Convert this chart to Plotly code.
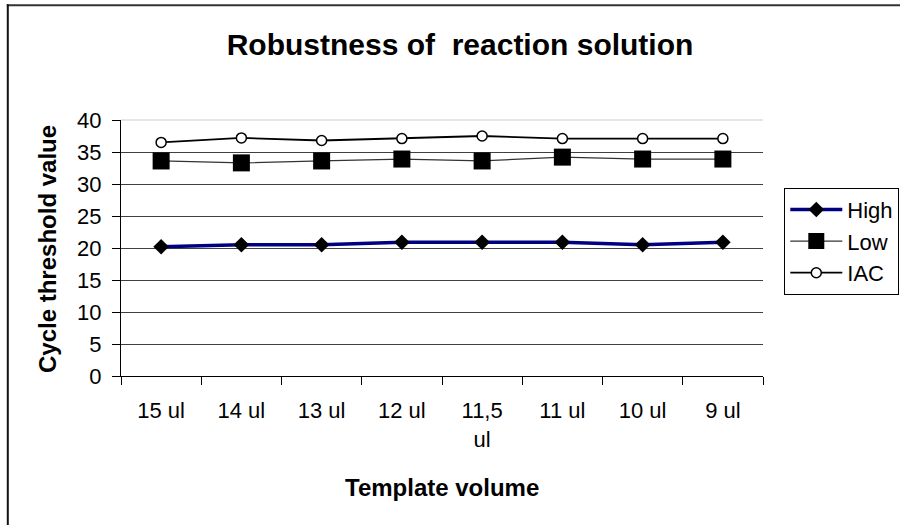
import plotly.graph_objects as go

categories = ["15 ul", "14 ul", "13 ul", "12 ul", "11,5<br>ul", "11 ul", "10 ul", "9 ul"]
high = [20.2, 20.5, 20.5, 20.9, 20.9, 20.9, 20.5, 20.9]
low = [33.6, 33.3, 33.6, 33.9, 33.6, 34.2, 33.9, 33.9]
iac = [36.5, 37.2, 36.8, 37.1, 37.5, 37.1, 37.1, 37.1]
y_ticks = [0, 5, 10, 15, 20, 25, 30, 35, 40]

FONT = "Liberation Sans, Arial, sans-serif"

# plot area in pixels
L, R, T, B = 120.7, 762.7, 120.3, 376.3
W, H = 900, 525
pw, ph = R - L, B - T

def px_x(x):
    return (x - L) / pw

def px_y(y):
    return (B - y) / ph

fig = go.Figure()
fig.add_trace(go.Scatter(
    x=categories, y=high, name="High", mode="lines+markers", legendgroup="a",
    line=dict(color="#000080", width=3.5),
    marker=dict(symbol="diamond", size=12, color="black"),
))
fig.add_trace(go.Scatter(
    x=categories, y=low, name="Low", mode="lines+markers", legendgroup="b",
    line=dict(color="#333333", width=1.2),
    marker=dict(symbol="square", size=17, color="black"),
))
fig.add_trace(go.Scatter(
    x=categories, y=iac, name="IAC", mode="lines+markers", legendgroup="c",
    line=dict(color="black", width=1.8),
    marker=dict(symbol="circle", size=10, color="white", line=dict(color="black", width=1.5)),
))

fig.update_layout(
    width=W, height=H,
    margin=dict(l=L, r=W - R, t=T, b=H - B, autoexpand=False, pad=0),
    paper_bgcolor="white", plot_bgcolor="white",
    font=dict(family=FONT, color="black", size=22),
    title=dict(text="<b>Robustness of  reaction solution</b>", x=460 / W, xanchor="center",
               y=1 - 44.5 / H, yanchor="middle", font=dict(size=30, family=FONT, color="black")),
    showlegend=True,
    legend=dict(x=px_x(784), y=px_y(188), xanchor="left", yanchor="top",
                bgcolor="white", bordercolor="black", borderwidth=1,
                font=dict(size=22, family=FONT, color="black"), tracegroupgap=0,
                itemsizing="trace", itemwidth=52, entrywidth=140, entrywidthmode="pixels"),
    xaxis=dict(
        type="category", categoryorder="array", categoryarray=categories,
        range=[-0.5, len(categories) - 0.5],
        showgrid=False, zeroline=False, showline=True, linecolor="black", linewidth=1,
        ticks="outside", tickson="boundaries", ticklen=8, tickcolor="black", tickwidth=1,
        tickfont=dict(size=22, family=FONT, color="black"), ticklabelstandoff=15,
        tickangle=0,
    ),
    yaxis=dict(
        range=[0, 40], tickvals=y_ticks, ticktext=[str(v) for v in y_ticks],
        showgrid=True, gridcolor="#404040", gridwidth=1.3,
        zeroline=False, showline=True, linecolor="black", linewidth=1,
        ticks="outside", ticklen=8, tickcolor="black", tickwidth=1,
        tickfont=dict(size=22, family=FONT, color="black"), ticklabelstandoff=6,
    ),
    annotations=[
        dict(text="<b>Cycle threshold value</b>", xref="paper", yref="paper",
             x=px_x(47), y=px_y(249), xanchor="center", yanchor="middle",
             textangle=-90, showarrow=False, font=dict(size=24, family=FONT, color="black")),
        dict(text="<b>Template volume</b>", xref="paper", yref="paper",
             x=px_x(442), y=px_y(488), xanchor="center", yanchor="middle",
             showarrow=False, font=dict(size=24, family=FONT, color="black")),
    ],
    shapes=[
        # outer chart border: only top and left edges fall inside the picture
        dict(type="line", xref="paper", yref="paper",
             x0=px_x(6.5), x1=px_x(905), y0=px_y(5.5), y1=px_y(5.5),
             line=dict(color="#333333", width=2), layer="below"),
        dict(type="line", xref="paper", yref="paper",
             x0=px_x(7.5), x1=px_x(7.5), y0=px_y(4.5), y1=px_y(530),
             line=dict(color="#111111", width=2), layer="below"),
        # faint top gridline
        dict(type="line", xref="paper", yref="paper", x0=0, x1=1, y0=1, y1=1,
             line=dict(color="#e6e6e6", width=2), layer="above"),
    ],
)

fig.write_html("out.html")
